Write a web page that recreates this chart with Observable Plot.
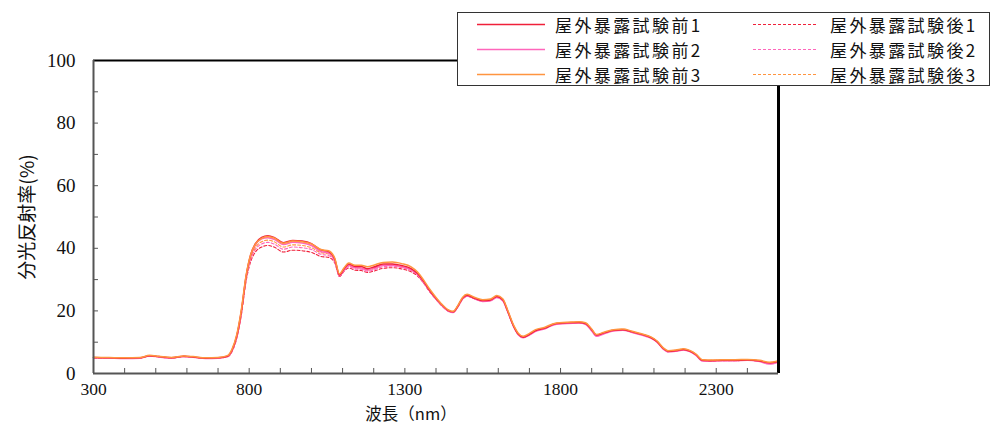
<!DOCTYPE html>
<html><head><meta charset="utf-8">
<script src="https://cdn.jsdelivr.net/npm/d3@7"></script>
<script src="https://cdn.jsdelivr.net/npm/@observablehq/plot@0.6"></script>
<style>
body{margin:0;background:#fff;}
#wrap{position:relative;width:991px;height:426px;}
#legend{position:absolute;left:457px;top:12px;width:533px;height:74px;border:1px solid #333;background:#fff;box-sizing:border-box;font-family:"Noto Sans CJK JP","Liberation Sans",sans-serif;font-size:17px;letter-spacing:2.4px;color:#111;}
.item{position:absolute;height:25px;width:530px;white-space:nowrap;}
.item svg{position:absolute;top:0;}
.item span{position:absolute;top:0px;line-height:25px;height:25px;white-space:nowrap;}
</style></head>
<body><div id="wrap"><div id="chart"></div><div id="legend"></div></div>
<script>
const wavelengths = [300,350,400,450,480,510,550,590,620,660,
 700,730,745,760,775,790,805,820,840,860,
 880,910,940,970,1000,1030,1055,1075,1090,1105,
 1120,1140,1160,1180,1200,1230,1260,1290,1320,1340,
 1360,1380,1400,1420,1440,1455,1470,1485,1500,1525,
 1550,1575,1595,1615,1630,1650,1665,1680,1700,1720,
 1750,1780,1820,1860,1880,1900,1915,1940,1970,2000,
 2030,2060,2090,2110,2130,2145,2170,2195,2215,2235,
 2255,2280,2320,2360,2400,2440,2470,2500];

const before1 = [5.1,5.0,4.9,5.0,5.7,5.4,5.0,5.5,5.3,4.9,
 5.0,5.5,7.5,12.0,20.0,31.0,38.0,41.5,43.5,44.0,
 43.5,41.8,42.5,42.3,41.5,39.5,39.0,36.5,31.5,33.5,
 35.0,34.2,34.2,33.5,34.0,35.0,35.0,34.5,33.5,32.0,
 29.5,26.5,24.0,21.8,20.1,19.7,21.5,24.0,25.0,24.0,
 23.3,23.5,24.6,23.5,20.0,15.0,12.5,11.6,12.5,13.7,
 14.5,15.8,16.2,16.3,16.0,14.0,12.3,13.0,13.8,14.0,
 13.3,12.5,11.5,10.2,8.0,7.1,7.3,7.7,7.2,6.0,
 4.2,4.1,4.2,4.2,4.3,4.0,3.4,3.9];

const before2 = [5.0,4.9,4.8,4.9,5.6,5.3,4.9,5.4,5.2,4.8,
 4.9,5.4,7.3,11.8,19.8,30.6,37.5,41.0,43.0,43.4,
 42.9,41.2,41.9,41.7,40.9,39.0,38.5,36.0,31.2,33.1,
 34.6,33.8,33.7,33.1,33.6,34.6,34.6,34.1,33.1,31.7,
 29.2,26.3,23.8,21.6,19.9,19.5,21.3,23.8,24.8,23.8,
 23.0,23.2,24.3,23.2,19.8,14.8,12.3,11.4,12.3,13.5,
 14.3,15.6,16.0,16.1,15.7,13.6,11.9,12.7,13.6,13.8,
 13.1,12.3,11.3,10.0,7.8,6.9,7.1,7.5,7.0,5.8,
 4.0,4.0,4.1,4.1,4.2,3.8,3.0,3.7];

const before3 = [5.2,5.1,5.0,5.1,5.8,5.5,5.1,5.6,5.4,5.0,
 5.1,5.7,7.8,12.4,20.5,31.3,38.0,41.3,43.2,43.8,
 43.3,41.6,42.3,42.1,41.4,39.6,39.2,36.8,31.8,33.8,
 35.3,34.6,34.6,34.1,34.6,35.5,35.6,35.1,34.1,32.5,
 29.9,26.9,24.3,22.0,20.3,19.9,21.7,24.3,25.3,24.3,
 23.6,23.8,24.9,23.8,20.3,15.3,12.8,11.9,12.8,14.0,
 14.8,16.0,16.4,16.5,16.2,14.2,12.5,13.2,14.0,14.2,
 13.5,12.7,11.7,10.4,8.2,7.3,7.5,7.9,7.4,6.2,
 4.4,4.3,4.4,4.4,4.5,4.2,3.6,4.1];

const after1 = [5.0,4.9,4.8,4.9,5.6,5.3,4.9,5.4,5.2,4.8,
 4.9,5.3,7.0,11.2,18.8,29.5,35.8,38.8,40.4,40.9,
 40.4,38.8,39.4,39.2,38.7,37.4,37.1,35.3,31.0,32.7,
 33.7,33.0,32.9,32.3,32.7,33.6,33.8,33.4,32.5,31.2,
 28.9,26.1,23.7,21.5,19.9,19.5,21.2,23.7,24.7,23.8,
 23.1,23.3,24.4,23.3,19.8,14.9,12.4,11.5,12.4,13.6,
 14.4,15.7,16.1,16.2,15.9,13.9,12.2,12.9,13.7,13.9,
 13.2,12.4,11.4,10.1,7.9,7.0,7.2,7.6,7.1,5.9,
 4.1,4.0,4.1,4.1,4.2,3.9,3.3,3.8];

const after2 = [5.0,4.9,4.9,5.0,5.7,5.3,5.0,5.5,5.2,4.9,
 5.0,5.4,7.2,11.5,19.2,30.0,36.5,39.6,41.4,41.9,
 41.4,39.7,40.4,40.2,39.6,38.1,37.7,35.8,31.2,33.0,
 34.2,33.4,33.3,32.7,33.1,34.1,34.3,33.8,32.9,31.5,
 29.2,26.3,23.9,21.7,20.0,19.6,21.4,23.9,24.9,23.9,
 23.2,23.4,24.5,23.4,19.9,14.9,12.4,11.5,12.4,13.6,
 14.4,15.7,16.1,16.2,15.8,13.8,12.0,12.8,13.7,13.9,
 13.2,12.4,11.4,10.1,7.9,7.0,7.2,7.6,7.1,5.9,
 4.1,4.0,4.1,4.1,4.2,3.9,3.2,3.8];

const after3 = [5.1,5.0,4.9,5.0,5.7,5.4,5.0,5.5,5.3,4.9,
 5.0,5.5,7.4,11.8,19.6,30.4,37.0,40.2,42.1,42.6,
 42.1,40.4,41.1,40.9,40.2,38.6,38.2,36.1,31.4,33.2,
 34.5,33.8,33.7,33.1,33.5,34.5,34.6,34.1,33.2,31.8,
 29.4,26.5,24.1,21.9,20.2,19.8,21.6,24.1,25.1,24.1,
 23.4,23.6,24.7,23.6,20.1,15.1,12.6,11.7,12.6,13.8,
 14.6,15.9,16.3,16.4,16.1,14.1,12.4,13.1,13.9,14.1,
 13.4,12.6,11.6,10.3,8.1,7.2,7.4,7.8,7.3,6.1,
 4.3,4.2,4.3,4.3,4.4,4.1,3.5,4.0];

const seriesNames = ["屋外暴露試験前1","屋外暴露試験前2","屋外暴露試験前3","屋外暴露試験後1","屋外暴露試験後2","屋外暴露試験後3"];
const seriesValues = [before1, before2, before3, after1, after2, after3];
const seriesColors = ["#f0203a","#ff66bb","#ff9540","#f0203a","#ff66bb","#ff9540"];
const seriesDashed = [false,false,false,true,true,true];

const xTickLabels = [300,800,1300,1800,2300];
const xMinorTicks = [300,400,500,600,700,800,900,1000,1100,1200,1300,1400,1500,1600,1700,1800,1900,2000,2100,2200,2300,2400,2500];
const yTickLabels = [0,20,40,60,80,100];
const yMinorTicks = [0,10,20,30,40,50,60,70,80,90,100];
const xTitle = "波長（nm）";
const yTitle = "分光反射率(%)";

const serif = "'Liberation Serif','DejaVu Serif',serif";
const cjk = "'Noto Sans CJK JP',sans-serif";

const drawOrder = [3,4,5,1,0,2];
const lineMarks = drawOrder.map(i => Plot.line(
  wavelengths.map((w, j) => ({x: w, y: seriesValues[i][j]})),
  {x: "x", y: "y", stroke: seriesColors[i], strokeWidth: seriesDashed[i] ? 1.1 : 1.5,
   strokeDasharray: seriesDashed[i] ? "3,2" : null, curve: "monotone-x"}));

const chart = Plot.plot({
  width: 991, height: 426,
  marginLeft: 93, marginRight: 213, marginTop: 60, marginBottom: 53,
  x: {domain: [300, 2500]},
  y: {domain: [0, 100]},
  style: {fontSize: "16px", color: "#111", background: "#fff"},
  marks: [
    Plot.ruleX(xMinorTicks, {x: d => d, y1: 0, y2: 1.6, stroke: "#555", strokeWidth: 1}),
    Plot.ruleY(yMinorTicks, {y: d => d, x1: 300, x2: 316, stroke: "#555", strokeWidth: 1}),
    ...lineMarks,
    Plot.ruleY([100], {stroke: "#000", strokeWidth: 2}),
    Plot.ruleX([2500], {stroke: "#000", strokeWidth: 3}),
    Plot.ruleY([0], {stroke: "#555", strokeWidth: 2}),
    Plot.ruleX([300], {stroke: "#555", strokeWidth: 2}),
    Plot.axisX(xTickLabels, {tickSize: 0, tickPadding: 9, label: null, fontSize: 17.5, fontFamily: serif, tickFormat: d => String(d)}),
    Plot.axisY(yTickLabels, {tickSize: 0, tickPadding: 18, label: null, fontSize: 19, fontFamily: serif, tickFormat: d => String(d)}),
    Plot.text([xTitle], {frameAnchor: "bottom", dx: -25, dy: 46, text: d => d, fontSize: 16.5, fontFamily: cjk, textAnchor: "middle"}),
    Plot.text([yTitle], {frameAnchor: "left", dx: -66, rotate: -90, text: d => d, fontSize: 19, fontFamily: cjk, textAnchor: "middle"})
  ]
});
document.getElementById("chart").appendChild(chart);

const legend = document.getElementById("legend");
const colLine = [[19, 68], [295, 65]];
const colText = [97, 372];
const rowTop = [-1, 24, 49];
seriesNames.forEach((name, i) => {
  const col = seriesDashed[i] ? 1 : 0;
  const row = i % 3;
  const div = document.createElement("div");
  div.className = "item";
  div.style.left = "0px";
  div.style.top = rowTop[row] + "px";
  const dash = seriesDashed[i] ? 'stroke-dasharray="3,2" stroke-width="1.1"' : 'stroke-width="1.5"';
  div.innerHTML = `<svg style="left:${colLine[col][0]}px" width="${colLine[col][1]}" height="25"><line x1="0" x2="${colLine[col][1]}" y1="12.5" y2="12.5" stroke="${seriesColors[i]}" ${dash}/></svg><span style="left:${colText[col]}px">${name}</span>`;
  legend.appendChild(div);
});
</script></body></html>
